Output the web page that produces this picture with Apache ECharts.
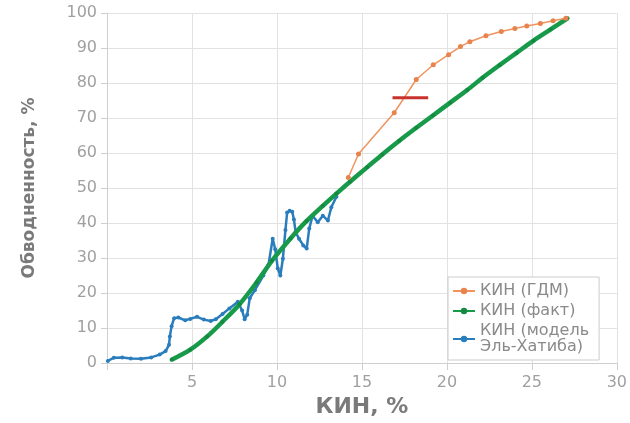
<!DOCTYPE html>
<html><head><meta charset="utf-8">
<script src="https://cdn.jsdelivr.net/npm/echarts@6/dist/echarts.min.js"></script>
<style>html,body{margin:0;padding:0;background:#fff}#c{width:630px;height:423px}</style>
</head><body><div id="c"></div>
<script>
var seriesNames = ['КИН (ГДМ)', 'КИН (факт)', 'КИН (модель Эль-Хатиба)'];
var xTicks = [0, 5, 10, 15, 20, 25, 30];
var yTicks = [0, 10, 20, 30, 40, 50, 60, 70, 80, 90, 100];

var gdmX = [14.2, 14.8, 16.9, 18.2, 19.2, 20.1, 20.8, 21.35, 22.3, 23.2, 24.0, 24.7, 25.5, 26.25, 27.0];
var gdmY = [53.0, 59.7, 71.5, 81.0, 85.2, 88.1, 90.4, 91.8, 93.5, 94.7, 95.6, 96.3, 97.0, 97.8, 98.5];

var factX = [3.8, 4.9, 5.9, 6.8, 7.8, 8.8, 9.7, 10.8, 11.75, 12.7, 13.5, 14.3, 15.3, 16.2, 17.2, 18.2, 19.2, 20.2, 21.2, 22.1, 23.1, 24.1, 25.1, 26.1, 27.1];
var factY = [0.9, 3.8, 7.6, 11.8, 16.8, 23.0, 29.2, 35.6, 40.6, 44.9, 48.4, 51.8, 55.9, 59.6, 63.5, 67.2, 70.8, 74.4, 78.0, 81.5, 85.1, 88.6, 92.1, 95.3, 98.5];

var modelX = [0.05, 0.4, 0.9, 1.4, 2.0, 2.6, 3.1, 3.45, 3.65, 3.7, 3.8, 3.95, 4.2, 4.6, 4.9, 5.3, 5.7, 6.1, 6.4, 6.8, 7.2, 7.7, 7.95, 8.1, 8.25, 8.4, 8.7, 9.2, 9.5, 9.75, 9.9, 10.05, 10.2, 10.35, 10.5, 10.6, 10.75, 10.9, 11.0, 11.1, 11.3, 11.55, 11.75, 11.9, 12.1, 12.4, 12.7, 13.0, 13.2, 13.5];
var modelY = [0.6, 1.5, 1.6, 1.3, 1.2, 1.6, 2.4, 3.4, 5.2, 7.6, 10.5, 12.8, 13.0, 12.2, 12.6, 13.2, 12.4, 12.0, 12.5, 14.0, 15.6, 17.5, 15.0, 12.5, 13.8, 18.5, 20.8, 25.0, 28.0, 35.5, 32.5, 27.0, 25.0, 29.8, 38.0, 43.0, 43.5, 43.2, 41.0, 37.4, 35.5, 33.6, 32.7, 38.4, 42.1, 40.2, 42.1, 40.7, 44.5, 47.5];

var markX = [16.8, 18.9];
var markY = [75.8, 75.8];

function pairs(xs, ys) { return xs.map(function (x, i) { return [x, ys[i]]; }); }

var chart = echarts.init(document.getElementById('c'), null, {renderer: 'canvas'});
chart.setOption({
  backgroundColor: '#ffffff',
  animation: false,
  grid: {left: 107, right: 13, top: 13, bottom: 58},
  legend: {
    data: seriesNames,
    orient: 'vertical',
    left: 448, top: 277,
    backgroundColor: '#ffffff',
    borderColor: '#cccccc', borderWidth: 1, borderRadius: 0,
    padding: [6, 10, 5, 4],
    itemGap: 4, itemWidth: 22, itemHeight: 8,
    textStyle: {color: '#8a8a8a', fontSize: 16, fontFamily: 'DejaVu Sans', lineHeight: 16},
    formatter: function (n) { return n.replace(' Эль', '\nЭль'); }
  },
  xAxis: {
    type: 'value', min: 0, max: 30, interval: 5,
    name: 'КИН, %', nameLocation: 'middle', nameGap: 33,
    nameTextStyle: {color: '#7a7a7a', fontSize: 22, fontWeight: 'bold', fontFamily: 'DejaVu Sans'},
    axisLine: {show: true, lineStyle: {color: '#cfcfcf'}},
    axisTick: {show: true, length: 7, lineStyle: {color: '#cfcfcf'}},
    axisLabel: {color: '#a0a0a0', fontSize: 16, fontFamily: 'DejaVu Sans', margin: 12,
      formatter: function (v) { return (v === 0 || xTicks.indexOf(v) < 0) ? '' : String(v); }},
    splitLine: {show: true, lineStyle: {color: '#e2e2e2'}}
  },
  yAxis: {
    type: 'value', min: 0, max: 100, interval: 10,
    name: 'Обводненность, %', nameLocation: 'middle', nameGap: 69,
    nameTextStyle: {color: '#7a7a7a', fontSize: 17, fontWeight: 'bold', fontFamily: 'DejaVu Sans'},
    axisLine: {show: true, lineStyle: {color: '#cfcfcf'}},
    axisTick: {show: true, length: 6, lineStyle: {color: '#cfcfcf'}},
    axisLabel: {color: '#a0a0a0', fontSize: 16, fontFamily: 'DejaVu Sans', margin: 10,
      formatter: function (v) { return yTicks.indexOf(v) >= 0 ? String(v) : ''; }},
    splitLine: {show: true, lineStyle: {color: '#e2e2e2'}}
  },
  series: [
    {
      name: seriesNames[2], type: 'line', data: pairs(modelX, modelY),
      symbol: 'circle', symbolSize: 4, showSymbol: true,
      lineStyle: {color: '#2a7dbd', width: 2.5}, itemStyle: {color: '#2a7dbd'}, z: 2
    },
    {
      name: seriesNames[1], type: 'line', data: pairs(factX, factY),
      symbol: 'circle', symbolSize: 4, showSymbol: true, smooth: 0.3,
      lineStyle: {color: '#179a4a', width: 4.5}, itemStyle: {color: '#138a40'}, z: 3
    },
    {
      name: seriesNames[0], type: 'line', data: pairs(gdmX, gdmY),
      symbol: 'circle', symbolSize: 5, showSymbol: true,
      lineStyle: {color: '#f0935e', width: 1.5}, itemStyle: {color: '#e8834d'}, z: 4
    },
    {
      name: 'mark', type: 'line', data: pairs(markX, markY),
      symbol: 'none', lineStyle: {color: '#c8322d', width: 3}, z: 5
    }
  ]
});
</script></body></html>
